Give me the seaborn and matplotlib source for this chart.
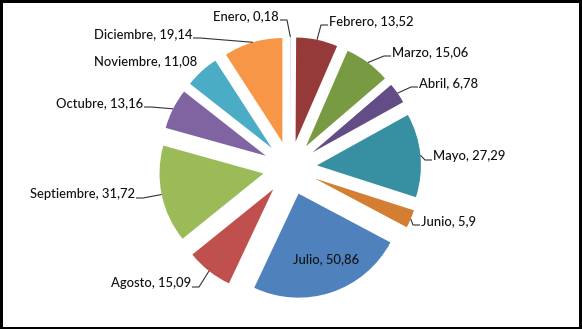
import math
import matplotlib
matplotlib.use("Agg")
import matplotlib.pyplot as plt
import matplotlib.patches as mpatches
import seaborn as sns

# ---- data ----
months = ["Enero", "Febrero", "Marzo", "Abril", "Mayo", "Junio",
          "Julio", "Agosto", "Septiembre", "Octubre", "Noviembre", "Diciembre"]
values = [0.18, 13.52, 15.06, 6.78, 27.29, 5.9,
          50.86, 15.09, 31.72, 13.16, 11.08, 19.14]
colors = ["#A9C3DF", "#953A39", "#789A42", "#634D86", "#3790A2", "#D47E34",
          "#4F81BD", "#C0504D", "#9BBB59", "#8064A2", "#4BACC6", "#F79646"]

# ---- layout (pixel positions of labels: anchor x, centre y, alignment, leader) ----
label_layout = [
    (279, 16, "right", True),
    (329, 21, "left", True),
    (392, 52, "left", True),
    (419, 83, "left", True),
    (433, 156, "left", True),
    (421, 221, "left", True),
    (326, 259, "center", False),
    (191, 283, "right", True),
    (135, 194, "right", True),
    (143, 103, "right", True),
    (197, 61, "right", False),
    (192, 34, "right", True),
]

W, H = 582, 329
CX, CY, R = 290, 168, 104  # pie centre / radius in pixels

sns.set_theme(style="white")
plt.rcParams["font.family"] = ["Lato", "DejaVu Sans"]

fig = plt.figure(figsize=(W / 100, H / 100), dpi=100)
fig.patch.set_facecolor("white")
ax = fig.add_axes([0, 0, 1, 1])

wedges, _ = ax.pie(values, colors=colors, startangle=90, counterclock=False,
                   explode=[0.26] * len(values), radius=1,
                   wedgeprops=dict(linewidth=0))
ax.set_aspect("auto")
ax.set_xlim(-CX / R, (W - CX) / R)
ax.set_ylim(-(H - CY) / R, CY / R)
ax.axis("off")


def px(x, y):
    return ((x - CX) / R, (CY - y) / R)


for m, v, w, (lx, ly, ha, leader) in zip(months, values, wedges, label_layout):
    txt = f"{m}, " + f"{v:g}".replace(".", ",")
    tx, ty = px(lx, ly)
    ax.text(tx, ty, txt, ha=ha, va="center", fontsize=9.4, color="#111111",
            fontweight="medium")
    if leader:
        mid = math.radians((w.theta1 + w.theta2) / 2)
        cx0, cy0 = w.center
        ex = cx0 + w.r * math.cos(mid)
        ey = cy0 + w.r * math.sin(mid)
        sgn = -1 if ha == "left" else 1
        x1, y1 = px(lx + sgn * 1, ly + 4)
        x2, y2 = px(lx + sgn * 8, ly + 4)
        ax.plot([x1, x2, ex], [y1, y2, ey], color="#333333", lw=0.8,
                solid_capstyle="butt")

# black frame around the picture
for rect in [(0, 0, 1, 2 / H), (0, 1 - 3 / H, 1, 3 / H),
             (0, 0, 3 / W, 1), (1 - 3 / W, 0, 3 / W, 1)]:
    fig.patches.append(mpatches.Rectangle(rect[:2], rect[2], rect[3],
                                          transform=fig.transFigure,
                                          facecolor="black", edgecolor="none"))

fig.savefig("out.png", dpi=100)
